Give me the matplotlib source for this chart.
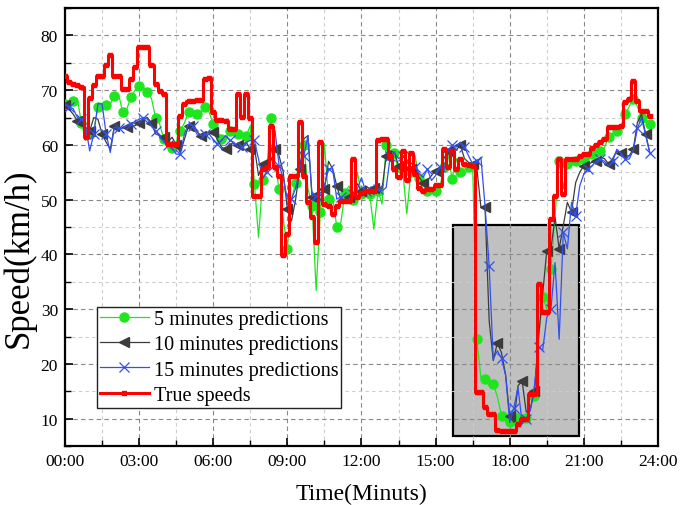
import numpy as np
import matplotlib
matplotlib.use('Agg')
import matplotlib.pyplot as plt
from matplotlib.patches import Rectangle
from matplotlib.ticker import MultipleLocator

plt.rcParams['font.family'] = ['Liberation Serif', 'DejaVu Serif']

# --- data: one sample every 10 minutes, 00:00 .. 23:40 ---
true_speed = [
    72.5, 71.5, 71.1, 71.0, 70.5, 61.5, 68.5, 71.0, 72.5, 72.6, 74.5, 76.5,
    72.6, 72.6, 70.2, 70.2, 72.0, 74.2, 77.8, 77.8, 77.8, 74.5, 71.1, 69.9,
    69.3, 60.2, 60.2, 60.2, 65.3, 67.5, 68.0, 68.1, 68.2, 68.2, 72.0, 72.3,
    66.0, 64.5, 64.5, 64.4, 62.9, 62.9, 69.3, 65.1, 69.3, 65.0, 50.7, 50.7,
    55.6, 55.9, 63.5, 56.0, 54.4, 39.8, 43.7, 54.4, 54.4, 64.1, 54.4, 49.5,
    46.8, 42.2, 60.5, 49.2, 48.9, 47.4, 48.9, 49.8, 49.8, 49.8, 57.4, 50.4,
    51.3, 51.6, 51.6, 51.6, 60.8, 61.0, 61.1, 58.0, 55.6, 54.1, 58.9, 53.5,
    58.6, 54.7, 52.2, 51.6, 51.9, 51.9, 52.6, 52.6, 59.3, 55.9, 58.9, 55.6,
    57.5, 56.5, 56.3, 56.2, 14.8, 14.8, 12.1, 10.8, 10.8, 8.0, 7.8, 7.8,
    7.8, 7.8, 9.0, 9.9, 9.9, 14.5, 14.5, 34.6, 29.4, 29.4, 46.5, 50.7,
    57.4, 51.0, 57.4, 57.4, 57.4, 58.0, 58.3, 58.3, 59.5, 60.0, 60.5, 61.1,
    63.2, 63.2, 63.3, 63.5, 67.8, 68.4, 71.7, 68.1, 66.2, 66.2, 65.3,
]
pred_5min = [
    67.5, 67.8, 68.0, 68.4, 64.0, 60.8, 62.0, 62.6, 66.9, 67.0, 67.2, 67.5,
    69.0, 69.3, 66.0, 66.5, 68.7, 70.0, 70.8, 70.5, 69.6, 68.5, 65.0, 63.8,
    61.0, 60.2, 59.5, 60.5, 62.6, 64.0, 66.0, 65.8, 65.6, 66.0, 66.9, 66.0,
    63.8, 62.5, 61.0, 60.8, 62.6, 62.3, 62.0, 62.0, 61.7, 63.5, 52.9, 43.1,
    53.5, 55.6, 65.0, 56.5, 52.0, 46.5, 41.0, 50.1, 53.0, 58.0, 60.0, 52.0,
    48.9, 33.4, 47.7, 60.2, 50.1, 50.4, 45.0, 45.9, 51.3, 52.5, 50.0, 55.0,
    51.0, 50.5, 51.0, 44.6, 51.5, 49.2, 60.0, 58.3, 58.6, 55.0, 55.5, 47.4,
    55.0, 58.0, 54.0, 51.3, 51.6, 51.6, 51.6, 52.0, 56.0, 58.5, 53.8, 57.5,
    55.0, 54.4, 56.0, 56.2, 24.5, 17.5, 17.2, 16.0, 16.3, 14.0, 10.5, 9.5,
    9.3, 8.8, 10.2, 10.0, 10.2, 12.0, 14.2, 25.0, 32.2, 30.0, 37.3, 47.0,
    57.1, 52.0, 56.5, 56.2, 57.0, 57.4, 57.4, 58.0, 58.3, 58.4, 58.9, 59.5,
    61.4, 62.0, 62.6, 63.5, 65.6, 67.0, 68.4, 67.0, 65.0, 64.5, 63.8,
]
pred_10min = [
    67.2, 66.5, 65.6, 64.4, 63.5, 63.2, 62.5, 65.0, 64.7, 62.0, 60.5, 59.2,
    63.5, 62.6, 63.2, 63.2, 63.5, 63.5, 64.0, 64.7, 65.0, 64.0, 62.0, 61.7,
    61.4, 60.5, 61.4, 60.0, 58.6, 61.0, 63.5, 64.1, 62.5, 61.7, 61.4, 62.0,
    62.3, 61.0, 59.6, 59.2, 60.2, 60.2, 59.9, 59.9, 60.5, 59.2, 59.6, 54.4,
    56.5, 55.0, 57.1, 59.2, 58.0, 55.0, 48.3, 46.1, 50.0, 55.6, 61.1, 61.7,
    50.4, 50.7, 49.8, 52.0, 57.0, 55.6, 52.5, 50.0, 50.0, 50.5, 51.0, 52.9,
    51.5, 52.5, 52.0, 52.2, 51.9, 52.0, 58.0, 58.9, 58.6, 56.2, 55.0, 56.0,
    55.6, 54.7, 54.1, 53.0, 53.5, 54.4, 55.3, 54.4, 57.5, 58.9, 59.6, 59.0,
    60.0, 57.5, 56.8, 56.5, 55.9, 48.6, 48.6, 27.9, 20.6, 23.9, 22.0, 18.0,
    10.5, 9.3, 16.0, 16.9, 11.2, 11.8, 15.0, 24.9, 32.8, 40.7, 41.0, 46.8,
    41.0, 45.2, 49.5, 47.7, 53.1, 55.0, 56.2, 56.5, 56.8, 57.0, 57.7, 57.5,
    56.5, 57.5, 58.9, 58.5, 58.0, 58.0, 59.2, 64.1, 65.6, 62.0, 58.6,
]
pred_15min = [
    67.2, 67.0, 66.6, 65.0, 64.7, 63.5, 58.9, 62.0, 67.5, 67.5, 62.0, 58.6,
    63.2, 63.0, 63.0, 63.5, 63.8, 64.2, 64.7, 65.0, 64.7, 63.5, 62.6, 61.5,
    60.5, 60.0, 59.5, 58.3, 58.3, 62.0, 63.8, 63.5, 62.0, 61.7, 62.0, 62.0,
    61.0, 60.2, 60.8, 61.7, 60.8, 60.5, 59.6, 59.6, 60.5, 60.8, 60.8, 57.4,
    53.8, 55.0, 58.6, 62.6, 56.2, 54.0, 50.1, 50.1, 52.0, 55.6, 58.0, 61.7,
    50.7, 50.7, 50.7, 52.5, 55.6, 55.6, 50.1, 50.5, 49.5, 50.0, 51.0, 52.0,
    54.0, 51.5, 51.9, 51.0, 52.0, 51.6, 52.2, 58.0, 58.5, 57.5, 58.0, 57.0,
    55.6, 56.0, 54.7, 54.1, 55.6, 53.5, 54.4, 56.0, 55.3, 58.9, 59.9, 59.6,
    60.5, 59.6, 58.0, 56.5, 57.0, 57.7, 48.9, 37.9, 20.9, 22.4, 21.0, 17.9,
    9.3, 12.0, 15.7, 9.3, 10.0, 11.5, 16.0, 23.0, 22.5, 28.5, 30.0, 38.5,
    24.5, 44.0, 41.0, 49.5, 47.1, 52.5, 54.7, 55.6, 56.2, 57.0, 57.4, 57.0,
    56.2, 57.0, 59.2, 58.5, 57.4, 57.4, 59.0, 63.0, 65.0, 61.7, 58.6,
]
labels = ['5 minutes predictions', '10 minutes predictions',
          '15 minutes predictions', 'True speeds']
hour_ticks = [0, 3, 6, 9, 12, 15, 18, 21, 24]
hour_labels = ['00:00', '03:00', '06:00', '09:00', '12:00',
               '15:00', '18:00', '21:00', '24:00']
# highlighted congestion window (hours, km/h)
box_x = (15.70, 20.80)
box_y = (6.8, 45.4)

t = np.arange(len(true_speed)) / 6.0

fig = plt.figure(figsize=(6.89, 5.06), dpi=100)
ax = fig.add_axes([0.0943, 0.1166, 0.8607, 0.8656])

ax.add_patch(Rectangle((box_x[0], box_y[0]), box_x[1] - box_x[0], box_y[1] - box_y[0],
                       facecolor='#c0c0c0', edgecolor='black', linewidth=1.6, zorder=0.3))

ax.plot(t, pred_5min, color='#1ee61e', lw=0.9, marker='o', ms=6.5,
        markevery=2, mec='#1ee61e', label=labels[0], zorder=3)
ax.plot(t, pred_10min, color='#3c3c3c', lw=0.9, marker='<', ms=7.5,
        markevery=3, label=labels[1], zorder=3.1)
ax.plot(t, pred_15min, color='#3050f0', lw=0.9, marker='x', ms=7,
        mew=0.9, markevery=(1, 3), label=labels[2], zorder=3.2)
ax.plot(t, true_speed, color='#ff0000', lw=2.2, marker='s', ms=2.6,
        drawstyle='steps-mid', label=labels[3], zorder=4)

ax.set_xlim(0, 24)
ax.set_ylim(5, 85)
ax.set_xticks(hour_ticks)
ax.set_xticklabels(hour_labels)
ax.xaxis.set_minor_locator(MultipleLocator(1.5))
ax.set_yticks([10, 20, 30, 40, 50, 60, 70, 80])
ax.yaxis.set_minor_locator(MultipleLocator(5))

ax.set_axisbelow(True)
ax.grid(True, which='major', color='#888888', linestyle=(0, (4, 3)), linewidth=0.8)
ax.grid(True, which='minor', color='#cccccc', linestyle=(0, (3, 3)), linewidth=0.8)

ax.tick_params(which='both', direction='in', labelsize=12.5, top=False, right=False)
ax.tick_params(which='major', length=6, width=1.2, pad=5)
ax.tick_params(which='minor', length=4, width=1.0)
for s in ax.spines.values():
    s.set_linewidth(1.6)

ax.set_xlabel('Time(Minuts)', fontsize=17, labelpad=10)
ax.set_ylabel('Speed(km/h)', fontsize=25)
ax.yaxis.set_label_coords(-0.05, 0.43)

leg = ax.legend(loc='lower left', bbox_to_anchor=(0.054, 0.087), borderaxespad=0,
                fontsize=14.6, fancybox=False, framealpha=1, edgecolor='#222222',
                handlelength=2.4, handletextpad=0.25, labelspacing=0.3,
                borderpad=0.15)
leg.get_frame().set_linewidth(1.0)

fig.savefig('out.png', dpi=100)
